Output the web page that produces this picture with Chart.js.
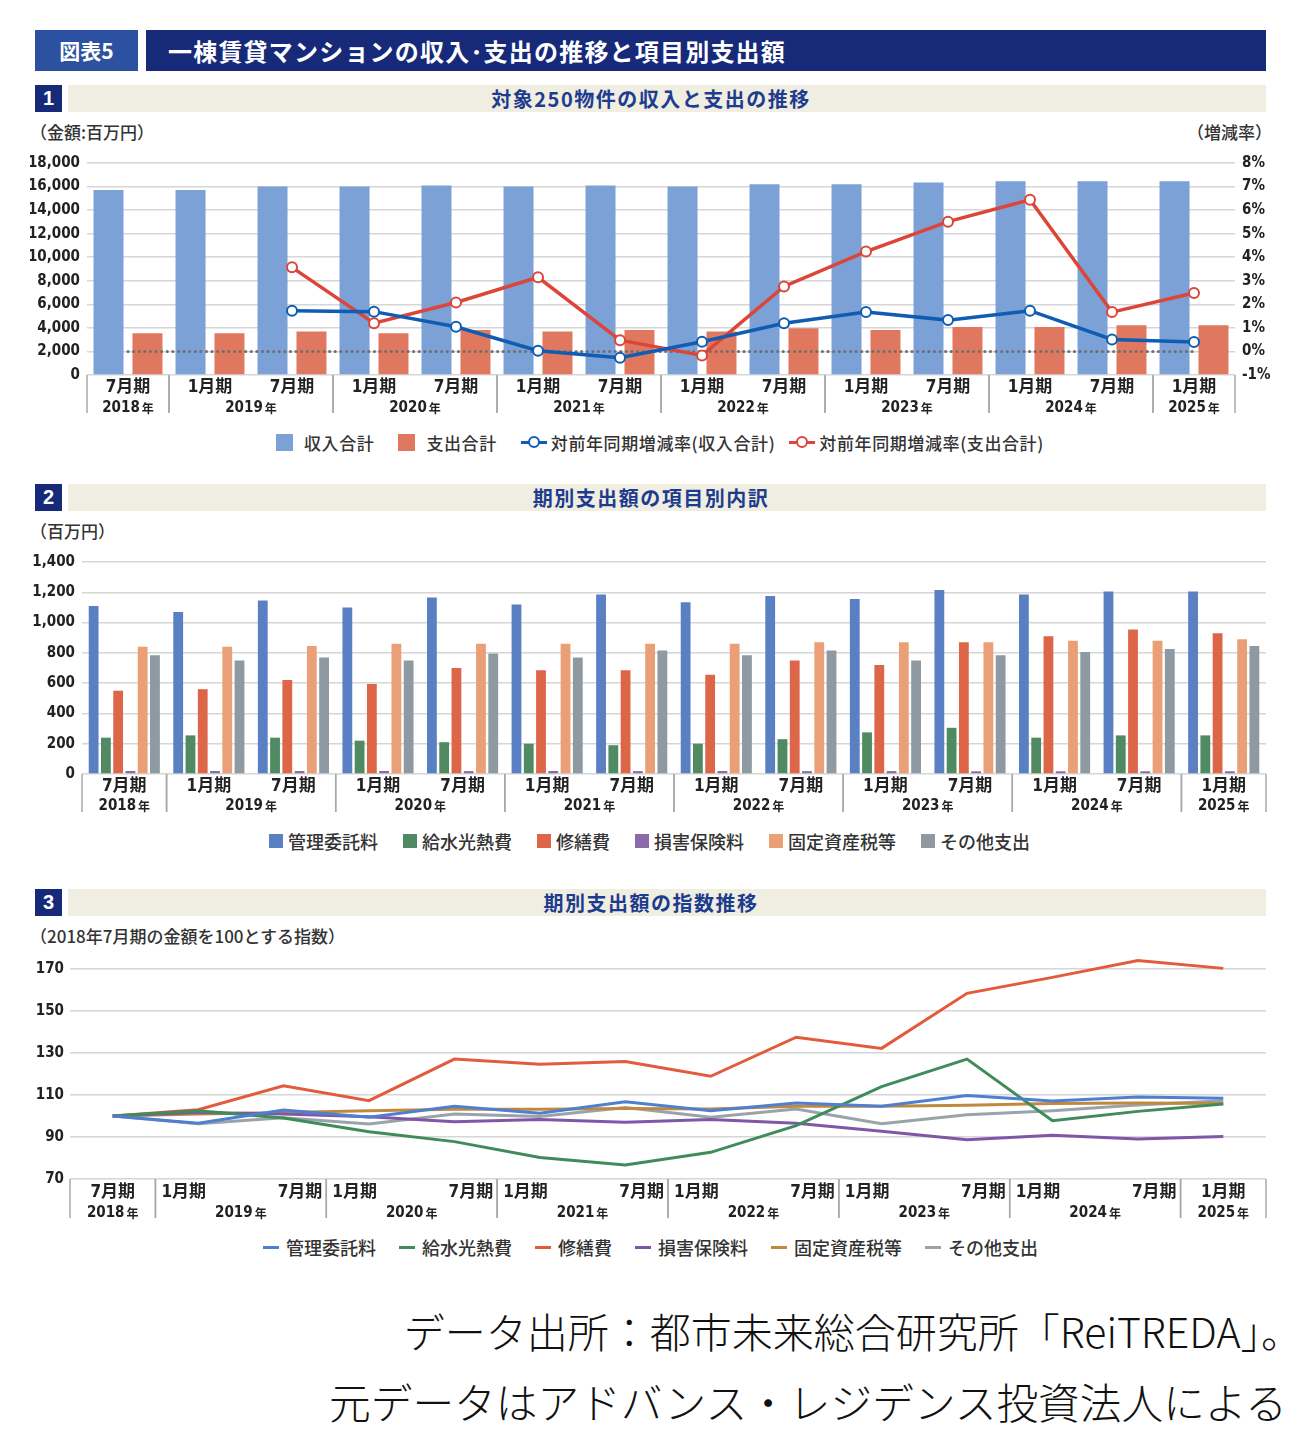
<!DOCTYPE html>
<html lang="ja">
<head>
<meta charset="utf-8">
<script src="https://cdn.jsdelivr.net/npm/chart.js@4.4.0/dist/chart.umd.min.js"></script>
<style>
body { margin: 0; width: 1300px; height: 1454px; background: #fff; position: relative; font-family: "Noto Sans CJK JP", sans-serif; overflow: hidden; }
.abs { position: absolute; }
.hdr { background: #172a7a; color: #fff; font-weight: 700; }
.sec-num { background: #172a7a; color: #fff; font: 700 20px "Liberation Sans", "Noto Sans CJK JP"; text-align: center; line-height: 27px; width: 27px; height: 27px; left: 35px; }
.sec-band { background: #f0ede1; color: #1d3c8f; font: 700 20px "Noto Sans CJK JP"; text-align: center; line-height: 27px; height: 27px; left: 68px; width: 1198px; padding-right: 32px; box-sizing: border-box; letter-spacing: 1.5px; }
.unit { font: 500 17px "Noto Sans CJK JP"; color: #333; line-height: 20px; }
.chart { position: absolute; left: 30px; width: 1250px; height: 270px; }
.legend { position: absolute; display: flex; align-items: center; font: 500 18px "Noto Sans CJK JP"; color: #333; white-space: nowrap; }
.legend .sq { display: inline-block; width: 17px; height: 17px; margin-right: 11px; }
.legend .sq2 { display: inline-block; width: 14px; height: 14px; margin-right: 5px; }
.legend .ln { display: inline-block; width: 16px; height: 3px; margin-right: 7px; }
.legend .mk { display: inline-block; position: relative; width: 26px; height: 3px; margin-right: 4px; }
.legend .mk i { position: absolute; left: 7px; top: -5px; width: 8px; height: 8px; border-radius: 50%; background: #fff; border: 2px solid; border-color: inherit; }
.src { position: absolute; font-weight: 300; font-family: "Noto Sans CJK JP"; color: #111; white-space: nowrap; }
</style>
</head>
<body>

<div class="abs hdr" style="left:35px;top:30px;width:103px;height:41px;background:#2c51a0;font-size:21px;line-height:41px;text-align:center;">図表5</div>
<div class="abs hdr" style="left:146px;top:30px;width:1120px;height:41px;font-size:24px;line-height:41px;padding-left:22px;box-sizing:border-box;letter-spacing:1.2px;">一棟賃貸マンションの収入･支出の推移と項目別支出額</div>

<div class="abs sec-num" style="top:85px;">1</div>
<div class="abs sec-band" style="top:85px;">対象250物件の収入と支出の推移</div>
<div class="abs unit" style="left:30px;top:122px;">（金額:百万円）</div>
<div class="abs unit" style="right:28px;top:122px;">（増減率）</div>
<div class="chart" style="top:147px;"><canvas id="chart1"></canvas></div>
<div class="legend" style="left:276px;top:430px;font-size:17px;letter-spacing:0.6px;">
  <span class="sq" style="background:#7ba1d6"></span><span>収入合計</span>
  <span class="sq" style="background:#e07860;margin-left:24px"></span><span>支出合計</span>
  <span class="mk" style="background:#0f5db3;border-color:#0f5db3;margin-left:24px"><i></i></span><span>対前年同期増減率(収入合計)</span>
  <span class="mk" style="background:#dc4538;border-color:#dc4538;margin-left:14px"><i></i></span><span>対前年同期増減率(支出合計)</span>
</div>

<div class="abs sec-num" style="top:484px;">2</div>
<div class="abs sec-band" style="top:484px;">期別支出額の項目別内訳</div>
<div class="abs unit" style="left:30px;top:521px;">（百万円）</div>
<div class="chart" style="top:546px;"><canvas id="chart2"></canvas></div>
<div class="legend" style="left:269px;top:828px;">
  <span class="sq2" style="background:#5a80c4"></span><span>管理委託料</span>
  <span class="sq2" style="background:#4f8a63;margin-left:25px"></span><span>給水光熱費</span>
  <span class="sq2" style="background:#dd6649;margin-left:25px"></span><span>修繕費</span>
  <span class="sq2" style="background:#8a6aa8;margin-left:25px"></span><span>損害保険料</span>
  <span class="sq2" style="background:#eb9f76;margin-left:25px"></span><span>固定資産税等</span>
  <span class="sq2" style="background:#8e99a2;margin-left:25px"></span><span>その他支出</span>
</div>

<div class="abs sec-num" style="top:889px;">3</div>
<div class="abs sec-band" style="top:889px;">期別支出額の指数推移</div>
<div class="abs unit" style="left:30px;top:926px;">（2018年7月期の金額を100とする指数）</div>
<div class="chart" style="top:954px;"><canvas id="chart3"></canvas></div>
<div class="legend" style="left:263px;top:1234px;">
  <span class="ln" style="background:#4f7fd0"></span><span>管理委託料</span>
  <span class="ln" style="background:#3f8c5a;margin-left:23px"></span><span>給水光熱費</span>
  <span class="ln" style="background:#e25b3c;margin-left:23px"></span><span>修繕費</span>
  <span class="ln" style="background:#8057a6;margin-left:23px"></span><span>損害保険料</span>
  <span class="ln" style="background:#c08a3e;margin-left:23px"></span><span>固定資産税等</span>
  <span class="ln" style="background:#9aa3aa;margin-left:23px"></span><span>その他支出</span>
</div>

<div class="src" style="right:-2px;top:1300px;font-size:41px;">データ出所：都市未来総合研究所「ReiTREDA」。</div>
<div class="src" style="right:13px;top:1371px;font-size:41.7px;">元データはアドバンス・レジデンス投資法人による</div>

<script>
const periods = ['7月期', '1月期', '7月期', '1月期', '7月期', '1月期', '7月期', '1月期', '7月期', '1月期', '7月期', '1月期', '7月期', '1月期'];
const years = ['2018', '2019', '2019', '2020', '2020', '2021', '2021', '2022', '2022', '2023', '2023', '2024', '2024', '2025'];

// 1. 収入と支出（百万円）
const incomeTotal = [15700, 15700, 16000, 16000, 16100, 16000, 16100, 16000, 16200, 16200, 16350, 16450, 16450, 16450];
const expenseTotal = [3550, 3550, 3700, 3550, 3830, 3700, 3830, 3700, 3970, 3830, 4080, 4080, 4220, 4220];
// 対前年同期増減率（%）
const incomeYoY = [null, null, 1.73, 1.69, 1.05, 0.03, -0.27, 0.41, 1.2, 1.67, 1.33, 1.73, 0.51, 0.40];
const expenseYoY = [null, null, 3.57, 1.2, 2.08, 3.15, 0.48, -0.17, 2.76, 4.24, 5.51, 6.44, 1.67, 2.48];

// 2. 項目別支出（百万円）
const mgmtFee = [1110, 1070, 1145, 1100, 1165, 1120, 1185, 1135, 1175, 1155, 1215, 1185, 1205, 1205];
const utilities = [240, 255, 240, 220, 210, 200, 190, 200, 230, 275, 305, 240, 255, 255];
const repairs = [550, 560, 620, 595, 700, 685, 685, 655, 750, 720, 870, 910, 955, 930];
const insurance = [20, 20, 20, 20, 19, 20, 19, 20, 19, 19, 18, 18, 18, 18];
const propertyTax = [840, 840, 845, 860, 860, 860, 860, 860, 870, 870, 870, 880, 880, 890];
const otherCost = [785, 750, 770, 750, 795, 770, 815, 785, 815, 750, 785, 805, 825, 845];

// 3. 指数（2018年7月期 = 100）
const idxMgmt = [100, 96.5, 102.9, 99.4, 104.6, 101.3, 106.8, 102.5, 106.2, 104.6, 109.8, 107.1, 109, 108.4];
const idxUtil = [100, 102.5, 99, 92.5, 87.8, 80.2, 76.7, 82.7, 95.4, 114, 127.1, 97.8, 102.2, 105.7];
const idxRepair = [100, 103, 114.4, 107.3, 127.1, 124.6, 126, 118.9, 137.5, 132.2, 158.4, 166, 174, 170.3];
const idxIns = [100, 101.7, 101, 99.7, 97.3, 98.3, 97, 98.3, 96.5, 92.7, 88.7, 90.8, 89, 90.2];
const idxTax = [100, 101, 101.7, 102.5, 103.2, 103.2, 103.6, 103.3, 104.6, 104.6, 105.1, 106, 106.2, 106];
const idxOther = [100, 96.3, 99.2, 96.2, 101, 99.8, 104.1, 99.4, 103.3, 96.3, 100.6, 102.5, 105.2, 107.3];

const NUM_FONT = '"Liberation Sans Narrow", "DejaVu Sans Condensed", "Noto Sans CJK JP"';
const GRID = '#d6d6d6';

Chart.defaults.font.family = NUM_FONT;
Chart.defaults.color = '#222';

function drawYear(ctx, year, cx, cy) {
  ctx.font = 'bold 15px ' + NUM_FONT;
  const w1 = ctx.measureText(year).width;
  ctx.font = 'bold 12px "Noto Sans CJK JP"';
  const w2 = ctx.measureText('年').width;
  const start = cx - (w1 + 2 + w2) / 2;
  ctx.textAlign = 'left';
  ctx.font = 'bold 15px ' + NUM_FONT;
  ctx.fillText(year, start, cy);
  ctx.font = 'bold 12px "Noto Sans CJK JP"';
  ctx.fillText('年', start + w1 + 2, cy);
}

// two-level category labels (期 / 年) with group separators
function periodAxis(cfg) {
  return {
    id: 'periodAxis',
    afterDraw(chart) {
      const ctx = chart.ctx;
      const xs = chart.scales.x;
      const area = chart.chartArea;
      const half = (xs.getPixelForValue(1) - xs.getPixelForValue(0)) / 2;
      const groups = [];
      years.forEach((y, i) => {
        const g = groups[groups.length - 1];
        if (g && g.year === y) g.end = i;
        else groups.push({ year: y, start: i, end: i });
      });
      ctx.save();
      ctx.strokeStyle = '#a8a8a8';
      ctx.lineWidth = 1.5;
      ctx.fillStyle = '#222';
      ctx.textBaseline = 'middle';
      groups.forEach(g => {
        const l = xs.getPixelForValue(g.start) - half;
        const r = xs.getPixelForValue(g.end) + half;
        [l, r].forEach(px => {
          ctx.beginPath();
          ctx.moveTo(px, area.bottom);
          ctx.lineTo(px, area.bottom + cfg.sepLen);
          ctx.stroke();
        });
        for (let i = g.start; i <= g.end; i++) {
          let px = xs.getPixelForValue(i);
          ctx.textAlign = 'center';
          if (cfg.edges && g.end > g.start) {
            if (i === g.start) { ctx.textAlign = 'left'; px = l + 6; }
            else { ctx.textAlign = 'right'; px = r - 4; }
          }
          ctx.font = 'bold 17px ' + NUM_FONT;
          ctx.fillText(periods[i], px, area.bottom + cfg.periodY);
        }
        drawYear(ctx, g.year, (l + r) / 2, area.bottom + cfg.yearY);
      });
      ctx.restore();
    }
  };
}

// 0% dotted reference line, drawn over the bars but under the lines
const zeroRefLine = {
  id: 'zeroRefLine',
  afterDatasetDraw(chart, args) {
    if (args.index !== 0) return;
    const xs = chart.scales.x, y1 = chart.scales.y1, ctx = chart.ctx;
    const y = y1.getPixelForValue(0);
    ctx.save();
    ctx.strokeStyle = '#6f6f6f';
    ctx.lineWidth = 3;
    ctx.lineCap = 'round';
    ctx.setLineDash([0.1, 5.5]);
    ctx.beginPath();
    ctx.moveTo(xs.getPixelForValue(0), y);
    ctx.lineTo(xs.getPixelForValue(periods.length - 1), y);
    ctx.stroke();
    ctx.restore();
  }
};

function xScale(height, offset) {
  return {
    offset: offset,
    grid: { display: false },
    border: { display: false },
    ticks: { display: false },
    afterFit(s) { s.height = height; }
  };
}

function yScale(width, opts) {
  return Object.assign({
    grid: { color: GRID, lineWidth: 1.5, drawTicks: false },
    border: { display: false },
    afterFit(s) { s.width = width; }
  }, opts);
}

const tickFont = { family: NUM_FONT, size: 15, weight: 'bold' };

// chart 1
new Chart(document.getElementById('chart1'), {
  type: 'bar',
  data: {
    labels: periods,
    datasets: [
      { label: '収入合計', data: incomeTotal, backgroundColor: '#7ba1d6', yAxisID: 'y', order: 2, categoryPercentage: 0.95, barPercentage: 0.77 },
      { label: '支出合計', data: expenseTotal, backgroundColor: '#e07860', yAxisID: 'y', order: 2, categoryPercentage: 0.95, barPercentage: 0.77 },
      { type: 'line', label: '対前年同期増減率(収入合計)', data: incomeYoY, yAxisID: 'y1', order: 1,
        borderColor: '#0f5db3', borderWidth: 3.5, pointRadius: 5, pointBorderWidth: 2, pointBackgroundColor: '#fff', pointBorderColor: '#0f5db3' },
      { type: 'line', label: '対前年同期増減率(支出合計)', data: expenseYoY, yAxisID: 'y1', order: 1,
        borderColor: '#dc4538', borderWidth: 3.5, pointRadius: 5, pointBorderWidth: 2, pointBackgroundColor: '#fff', pointBorderColor: '#dc4538' }
    ]
  },
  options: {
    responsive: true, maintainAspectRatio: false, animation: false,
    layout: { padding: { top: 8, left: 0, right: 0 } },
    plugins: { legend: { display: false }, tooltip: { enabled: false } },
    scales: {
      x: xScale(42, true),
      y: yScale(57, { position: 'left', min: 0, max: 18000,
        ticks: { stepSize: 2000, padding: 7, font: tickFont, callback: v => v.toLocaleString('en-US') } }),
      y1: {
        position: 'right', min: -1, max: 8,
        grid: { display: false, drawTicks: false },
        border: { display: false },
        ticks: { stepSize: 1, padding: 7, font: tickFont, callback: v => v + '%' },
        afterFit(s) { s.width = 45; }
      }
    }
  },
  plugins: [zeroRefLine, periodAxis({ sepLen: 38, periodY: 13, yearY: 33 })]
});

// chart 2
const barOpts = { categoryPercentage: 0.87, barPercentage: 0.8 };
new Chart(document.getElementById('chart2'), {
  type: 'bar',
  data: {
    labels: periods,
    datasets: [
      Object.assign({ label: '管理委託料', data: mgmtFee, backgroundColor: '#5a80c4' }, barOpts),
      Object.assign({ label: '給水光熱費', data: utilities, backgroundColor: '#4f8a63' }, barOpts),
      Object.assign({ label: '修繕費', data: repairs, backgroundColor: '#dd6649' }, barOpts),
      Object.assign({ label: '損害保険料', data: insurance, backgroundColor: '#8a6aa8' }, barOpts),
      Object.assign({ label: '固定資産税等', data: propertyTax, backgroundColor: '#eb9f76' }, barOpts),
      Object.assign({ label: 'その他支出', data: otherCost, backgroundColor: '#8e99a2' }, barOpts)
    ]
  },
  options: {
    responsive: true, maintainAspectRatio: false, animation: false,
    layout: { padding: { top: 8, right: 14 } },
    plugins: { legend: { display: false }, tooltip: { enabled: false } },
    scales: {
      x: xScale(42, true),
      y: yScale(52, { min: 0, max: 1400,
        ticks: { stepSize: 200, padding: 7, font: tickFont, callback: v => v.toLocaleString('en-US') } })
    }
  },
  plugins: [periodAxis({ sepLen: 38, periodY: 13, yearY: 32 })]
});

// chart 3
function idxLine(label, data, color) {
  return { label: label, data: data, borderColor: color, borderWidth: 3, pointRadius: 0, tension: 0, clip: false };
}
new Chart(document.getElementById('chart3'), {
  type: 'line',
  data: {
    labels: periods,
    datasets: [
      idxLine('管理委託料', idxMgmt, '#4f7fd0'),
      idxLine('給水光熱費', idxUtil, '#3f8c5a'),
      idxLine('修繕費', idxRepair, '#e25b3c'),
      idxLine('損害保険料', idxIns, '#8057a6'),
      idxLine('固定資産税等', idxTax, '#c08a3e'),
      idxLine('その他支出', idxOther, '#9aa3aa')
    ]
  },
  options: {
    responsive: true, maintainAspectRatio: false, animation: false,
    layout: { padding: { top: 9, right: 14 } },
    plugins: { legend: { display: false }, tooltip: { enabled: false } },
    scales: {
      x: xScale(45, true),
      y: yScale(40, { min: 70, max: 170,
        ticks: { stepSize: 20, padding: 6, font: tickFont } })
    }
  },
  plugins: [periodAxis({ sepLen: 39, periodY: 14, yearY: 34, edges: true })]
});
</script>
</body>
</html>
